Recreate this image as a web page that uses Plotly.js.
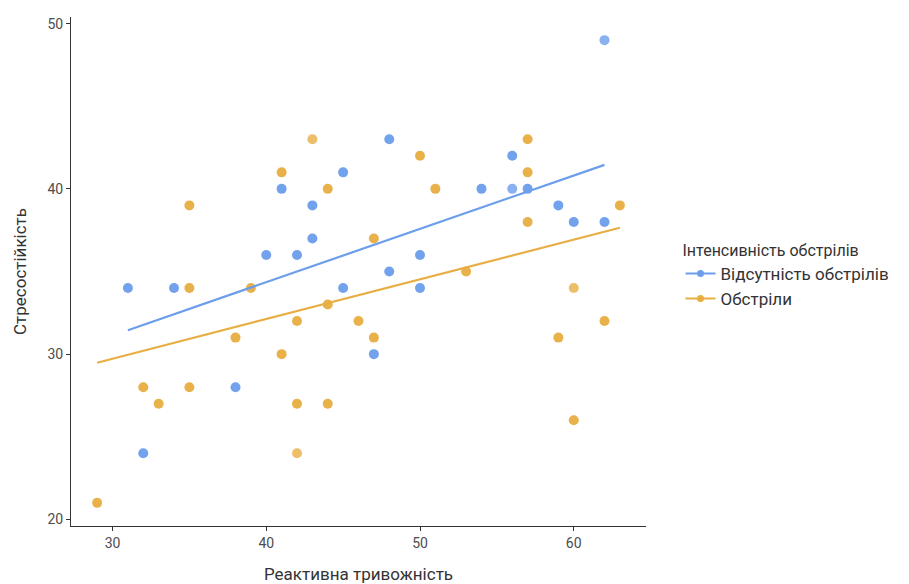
<!DOCTYPE html>
<html>
<head>
<meta charset="utf-8">
<script src="https://cdn.plot.ly/plotly-3.0.1.min.js"></script>
<style>
  html, body { margin: 0; padding: 0; background: #ffffff; }
  #chart { width: 909px; height: 584px; }
</style>
</head>
<body>
<div id="chart"></div>
<script>
// Reactive anxiety (x) vs. stress resistance (y), split by shelling intensity.
// "n" = how many respondents share the same (x, y) pair.

const groupNames = ['Відсутність обстрілів', 'Обстріли'];
const groupColors = ['#6d9eeb', '#e8ae43'];

// Group: no shelling
const noShellX = [45, 41, 43, 43, 40, 42, 62, 48, 56, 54, 56, 57, 59, 60, 62, 50, 48, 31, 34, 45, 50, 38, 47, 32];
const noShellY = [41, 40, 39, 37, 36, 36, 49, 43, 42, 40, 40, 40, 39, 38, 38, 36, 35, 34, 34, 34, 34, 28, 30, 24];
const noShellN = [2, 2, 2, 2, 2, 2, 1, 2, 2, 2, 1, 2, 2, 2, 2, 2, 2, 2, 2, 2, 2, 2, 2, 2];

// Group: shelling
const shellX = [43, 41, 44, 35, 50, 57, 57, 51, 57, 47, 63, 35, 39, 44, 42, 46, 38, 41, 32, 35, 33, 42, 44, 42, 29, 53, 60, 62, 47, 59, 60];
const shellY = [43, 41, 40, 39, 42, 43, 41, 40, 38, 37, 39, 34, 34, 33, 32, 32, 31, 30, 28, 28, 27, 27, 27, 24, 21, 35, 34, 32, 31, 31, 26];
const shellN = [1, 2, 2, 2, 2, 2, 2, 2, 2, 2, 2, 2, 2, 2, 2, 2, 2, 2, 2, 2, 2, 2, 2, 1, 2, 2, 1, 2, 2, 2, 2];

// Linear trend lines (end points of each group's fit)
const fitNoShellX = [31, 62];
const fitNoShellY = [31.45, 41.45];
const fitShellX = [29, 63];
const fitShellY = [29.48, 37.65];

const xTicks = [30, 40, 50, 60];
const yTicks = [20, 30, 40, 50];

// Stacked semi-transparent dots get darker where responses repeat
const alphaFor = n => n.map(k => 1 - Math.pow(0.2, k));

const pointTrace = (x, y, n, color) => ({
  type: 'scatter', mode: 'markers', x, y,
  marker: { color, size: 10, opacity: alphaFor(n), line: { width: 0 } },
  showlegend: false, hoverinfo: 'x+y'
});

const lineTrace = (x, y, color) => ({
  type: 'scatter', mode: 'lines', x, y,
  line: { color, width: 2.2 },
  showlegend: false, hoverinfo: 'skip'
});

const legendTrace = (name, color) => ({
  type: 'scatter', mode: 'lines+markers', x: [null], y: [null], name,
  line: { color, width: 2 },
  marker: { color, size: 7 },
  showlegend: true
});

const data = [
  pointTrace(noShellX, noShellY, noShellN, groupColors[0]),
  pointTrace(shellX, shellY, shellN, groupColors[1]),
  lineTrace(fitNoShellX, fitNoShellY, groupColors[0]),
  lineTrace(fitShellX, fitShellY, groupColors[1]),
  legendTrace(groupNames[0], groupColors[0]),
  legendTrace(groupNames[1], groupColors[1])
];

const axisCommon = {
  showgrid: false, zeroline: false,
  showline: true, linecolor: '#333333', linewidth: 1,
  ticks: 'outside', ticklen: 4, tickwidth: 1, tickcolor: '#333333',
  tickfont: { family: 'Roboto, sans-serif', size: 14, color: '#4d4d4d' }
};

const layout = {
  width: 909, height: 584,
  margin: { l: 71, r: 263, t: 17, b: 58 },
  paper_bgcolor: '#ffffff', plot_bgcolor: '#ffffff',
  font: { family: 'Roboto, sans-serif', color: '#333333' },
  xaxis: Object.assign({}, axisCommon, {
    range: [27.3, 64.7],
    tickvals: xTicks, ticktext: xTicks.map(String),
    title: { text: 'Реактивна тривожність', font: { size: 17, color: '#333333' }, standoff: 22 }
  }),
  yaxis: Object.assign({}, axisCommon, {
    range: [19.6, 50.4],
    tickvals: yTicks, ticktext: yTicks.map(String),
    title: { text: 'Стресостійкість', font: { size: 17, color: '#333333' }, standoff: 16 }
  }),
  legend: {
    x: 1.06, xanchor: 'left', y: 0.492, yanchor: 'middle',
    title: { text: 'Інтенсивність обстрілів', font: { size: 16, color: '#333333' } },
    font: { size: 17, color: '#333333' },
    bgcolor: 'rgba(0,0,0,0)', tracegroupgap: 0, itemwidth: 30
  },
  showlegend: true
};

Plotly.newPlot('chart', data, layout, { displayModeBar: false, staticPlot: true });
</script>
</body>
</html>
